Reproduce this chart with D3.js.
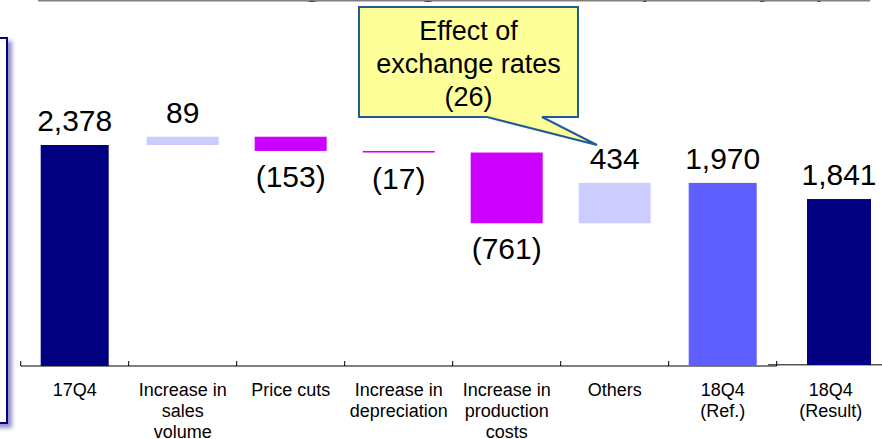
<!DOCTYPE html>
<html>
<head>
<meta charset="utf-8">
<script src="https://cdn.jsdelivr.net/npm/d3@7"></script>
<style>
  body { margin: 0; background: #fff; }
  svg { display: block; font-family: "Liberation Sans", Arial, sans-serif; }
</style>
</head>
<body>
<div id="chart"></div>
<script>
var width = 882;
var height = 439;

var categories = ["17Q4", "Increase in sales volume", "Price cuts", "Increase in depreciation",
  "Increase in production costs", "Others", "18Q4 (Ref.)", "18Q4 (Result)"];
var tickLines = [["17Q4"], ["Increase in", "sales", "volume"], ["Price cuts"], ["Increase in", "depreciation"],
  ["Increase in", "production", "costs"], ["Others"], ["18Q4", "(Ref.)"], ["18Q4", "(Result)"]];
var values = [2378, 89, -153, -17, -761, 434, 1970, 1841];
var kinds = ["total", "up", "down", "down", "down", "up", "ref", "result"];
var valueLabels = ["2,378", "89", "(153)", "(17)", "(761)", "434", "1,970", "1,841"];
var titleText = "Factors Affecting Change in Income (million yen)";
var calloutLines = ["Effect of", "exchange rates", "(26)"];

var colors = {total: "#000080", up: "#CCCCFF", down: "#CC00FF", ref: "#5F5FFF", result: "#000080"};

var svg = d3.select("#chart").append("svg")
  .attr("width", width)
  .attr("height", height);

var defs = svg.append("defs");
var shadow = defs.append("filter").attr("id", "shadow")
  .attr("x", "-50%").attr("y", "-5%").attr("width", "200%").attr("height", "110%");
shadow.append("feDropShadow")
  .attr("dx", 4).attr("dy", 4).attr("stdDeviation", 2)
  .attr("flood-color", "#6a6ab8").attr("flood-opacity", 0.75);

// main chart scales
var x = d3.scaleBand().domain(categories).range([20.7, 884.7]);
var y = d3.scaleLinear().domain([0, 2378]).range([366, 145]);

// the result bar sits on a pasted chart with its own scale
var xResult = d3.scaleBand().domain([categories[7]]).range([785, 893]);
var yResult = d3.scaleLinear().domain([0, 2000]).range([365, 184.7]);

// waterfall: running bases
var bars = [];
var running = 0;
for (var i = 0; i < values.length; i++) {
  var k = kinds[i];
  var lo, hi;
  if (k === "total" || k === "ref" || k === "result") {
    lo = 0; hi = values[i];
    running = values[i];
  } else {
    var next = running + values[i];
    lo = Math.min(running, next);
    hi = Math.max(running, next);
    running = next;
  }
  bars.push({cat: categories[i], kind: k, lo: lo, hi: hi, label: valueLabels[i]});
}

// title, almost entirely above the frame
svg.append("text")
  .attr("x", 55)
  .attr("y", -6)
  .style("font-size", "36px")
  .attr("fill", "#000")
  .text(titleText);
svg.append("line")
  .attr("x1", 38).attr("x2", 870)
  .attr("y1", 0.5).attr("y2", 0.5)
  .attr("stroke", "#808080")
  .attr("stroke-width", 2);

// left frame (cut off)
svg.append("rect")
  .attr("x", -20)
  .attr("y", 38)
  .attr("width", 27)
  .attr("height", 385)
  .attr("fill", "#fff")
  .attr("stroke", "#000080")
  .attr("stroke-width", 2)
  .attr("filter", "url(#shadow)");

// axis
svg.append("line")
  .attr("x1", x(categories[0])).attr("x2", x(categories[7]))
  .attr("y1", 366).attr("y2", 366)
  .attr("stroke", "#000").attr("stroke-width", 1.2);
svg.append("line")
  .attr("x1", 768).attr("x2", 882)
  .attr("y1", 364.8).attr("y2", 364.8)
  .attr("stroke", "#555").attr("stroke-width", 1.5);
svg.selectAll(".tick").data(categories).enter().append("line")
  .attr("class", "tick")
  .attr("x1", function(d){ return x(d); })
  .attr("x2", function(d){ return x(d); })
  .attr("y1", 361).attr("y2", 366)
  .attr("stroke", "#000").attr("stroke-width", 1);

// bars
bars.forEach(function(b){
  var bx, bw, top, bottom;
  if (b.kind === "result") {
    bw = 64;
    bx = xResult(b.cat) + (xResult.bandwidth() - bw) / 2;
    top = yResult(b.hi);
    bottom = yResult(b.lo);
  } else {
    bw = (b.kind === "total" || b.kind === "ref") ? 68 : 72;
    bx = x(b.cat) + (x.bandwidth() - bw) / 2;
    top = y(b.hi);
    bottom = y(b.lo);
  }
  svg.append("rect")
    .attr("x", bx)
    .attr("y", top)
    .attr("width", bw)
    .attr("height", Math.max(bottom - top, 1.2))
    .attr("fill", colors[b.kind]);

  var ly = b.kind === "down" ? bottom + 36 : top - 14;
  svg.append("text")
    .attr("x", bx + bw / 2)
    .attr("y", ly)
    .attr("text-anchor", "middle")
    .style("font-size", "30px")
    .attr("fill", "#000")
    .text(b.label);
});

// category labels
categories.forEach(function(c, i){
  var t = svg.append("text")
    .attr("text-anchor", "middle")
    .style("font-size", "18px")
    .attr("fill", "#000");
  tickLines[i].forEach(function(line, j){
    t.append("tspan")
      .attr("x", x(c) + x.bandwidth() / 2)
      .attr("y", 395.5 + j * 21)
      .text(line);
  });
});

// callout
svg.append("path")
  .attr("d", "M359,7 H578 V117 H542 L597,145 L487,117 H359 Z")
  .attr("fill", "#FFFF99")
  .attr("stroke", "#1F5C99")
  .attr("stroke-width", 2)
  .attr("stroke-linejoin", "miter");
calloutLines.forEach(function(line, j){
  svg.append("text")
    .attr("x", 468.5)
    .attr("y", 39.5 + j * 33)
    .attr("text-anchor", "middle")
    .style("font-size", "27px")
    .attr("fill", "#000")
    .text(line);
});
</script>
</body>
</html>
